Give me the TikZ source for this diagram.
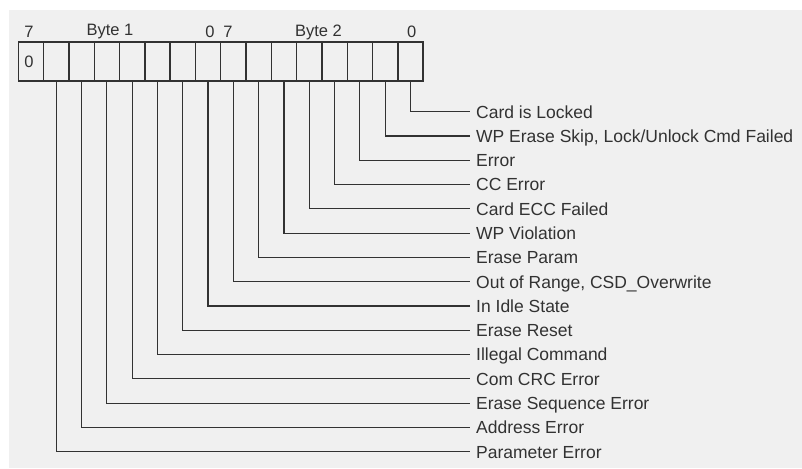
\documentclass[tikz,border=0pt]{standalone}
\usepackage{fontspec}
\setmainfont{Liberation Sans}
\definecolor{bg}{RGB}{240,240,240}
\definecolor{ink}{RGB}{50,50,50}
\tikzset{
  cell/.style={draw=ink, line width=1.4pt, minimum width=25.3pt, minimum height=39pt, inner sep=0pt, outer sep=0pt},
  lbl/.style={anchor=west, inner xsep=6pt, inner ysep=0pt, text=ink, font=\fontsize{17.5}{20}\selectfont, text height=12.6pt, text depth=0pt},
  toplbl/.style={text=ink, inner sep=0pt, font=\fontsize{16.5}{19}\selectfont},
  conn/.style={draw=ink, line width=1.2pt}
}
\begin{document}
\begin{tikzpicture}[x=1pt,y=-1pt]
\useasboundingbox (0,0) rectangle (802,468);
\fill[white] (0,0) rectangle (802,468);
\fill[bg] (9,10) rectangle (802,468);
% cells
\foreach \i in {0,...,15} {
  \node[cell] (c\i) at ({18.3+25.3*(\i+0.5)},61.5) {};
}
\node[toplbl] (zero) at (29,62) {0};
% top labels
\node[toplbl] (t7a) at (29,32) {7};
\node[toplbl] (tb1) at (110,32) {Byte 1};
\node[toplbl] (t0a) at (210,32) {0};
\node[toplbl] (t7b) at (228,32) {7};
\node[toplbl] (tb2) at (318.5,32) {Byte 2};
\node[toplbl] (t0b) at (411.7,32) {0};
% labels
\node[lbl] (l15) at (470,{111.7+24.29*0}) {Card is Locked};
\node[lbl] (l14) at (470,{111.7+24.29*1}) {WP Erase Skip, Lock/Unlock Cmd Failed};
\node[lbl] (l13) at (470,{111.7+24.29*2}) {Error};
\node[lbl] (l12) at (470,{111.7+24.29*3}) {CC Error};
\node[lbl] (l11) at (470,{111.7+24.29*4}) {Card ECC Failed};
\node[lbl] (l10) at (470,{111.7+24.29*5}) {WP Violation};
\node[lbl] (l9) at (470,{111.7+24.29*6}) {Erase Param};
\node[lbl] (l8) at (470,{111.7+24.29*7}) {Out of Range, CSD\_Overwrite};
\node[lbl] (l7) at (470,{111.7+24.29*8}) {In Idle State};
\node[lbl] (l6) at (470,{111.7+24.29*9}) {Erase Reset};
\node[lbl] (l5) at (470,{111.7+24.29*10}) {Illegal Command};
\node[lbl] (l4) at (470,{111.7+24.29*11}) {Com CRC Error};
\node[lbl] (l3) at (470,{111.7+24.29*12}) {Erase Sequence Error};
\node[lbl] (l2) at (470,{111.7+24.29*13}) {Address Error};
\node[lbl] (l1) at (470,{111.7+24.29*14}) {Parameter Error};
% connectors
\foreach \i in {1,...,15} {
  \draw[conn] (c\i.south) |- (l\i.west);
}
\end{tikzpicture}
\end{document}
